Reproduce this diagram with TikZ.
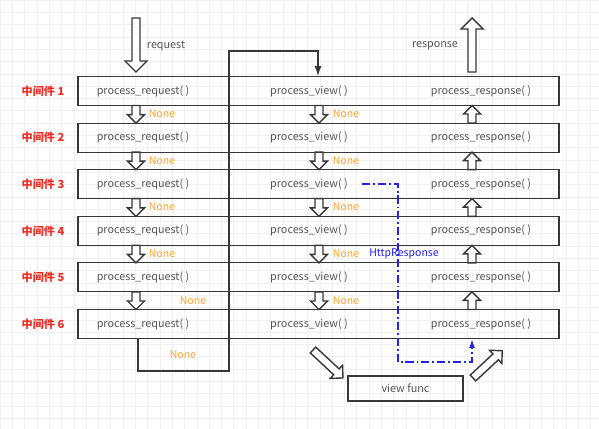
\documentclass[tikz,border=0pt]{standalone}
\usepackage{fontspec}
\setmainfont{Noto Sans CJK SC}
\usetikzlibrary{arrows.meta}
\definecolor{boxline}{RGB}{55,55,55}
\definecolor{txt}{RGB}{85,85,85}
\definecolor{nonec}{RGB}{250,165,55}
\definecolor{redc}{RGB}{235,45,35}
\definecolor{bluec}{RGB}{35,35,225}
\definecolor{gridc}{RGB}{240,240,240}
\begin{document}
\begin{tikzpicture}[
    x=0.03cm, y=-0.03cm,
    row/.style={draw=boxline, line width=0.9pt, minimum width=14.43cm, minimum height=0.87cm},
    fn/.style={text=txt, font=\fontsize{9.2}{11}\selectfont, inner sep=0pt},
    mid/.style={text=redc, font=\fontsize{9.5}{11}\selectfont\bfseries},
    none/.style={text=nonec, font=\fontsize{9}{11}\selectfont, inner sep=0pt},
    flow/.style={-{Latex[length=8.5pt,width=6pt]}, line width=0.9pt, draw=boxline},
    hit/.style={-{Latex[length=7.5pt,width=5pt]}, line width=1.2pt, bluec,
                dash pattern=on 7pt off 2.5pt on 1.5pt off 2.5pt},
    pics/hollow/.style args={#1/#2}{code={
      \draw[boxline, line width=1.2pt, fill=white] (0,-4) -- ({#1-#2},-4) -- ({#1-#2},-#2)
        -- (#1,0) -- ({#1-#2},#2) -- ({#1-#2},4) -- (0,4) -- cycle;
    }},
  ]
    \useasboundingbox (0,0) rectangle (599,429);
    \draw[gridc, line width=0.4pt, step=0.369cm] (0,0) grid (599,429);

    % request / response
    \pic[rotate=-90] at (136,18) {hollow=54/11};
    \pic[rotate=90]  at (472,72) {hollow=54/11};
    \node[fn] (req)  at (166,46) {request};
    \node[fn] (resp) at (435,46) {response};

    % middleware rows
    \node[mid] (m1) at (43,91) {中间件 1};
    \node[row] (row1) at (318.5,91) {};
    \node[fn]  (pr1) at (143,91) {process\_request( )};
    \node[fn]  (pv1) at (309,91) {process\_view( )};
    \node[fn]  (ps1) at (481,91) {process\_response( )};

    \node[mid] (m2) at (43,137.6) {中间件 2};
    \node[row] (row2) at (318.5,137.6) {};
    \node[fn]  (pr2) at (143,137.6) {process\_request( )};
    \node[fn]  (pv2) at (309,137.6) {process\_view( )};
    \node[fn]  (ps2) at (481,137.6) {process\_response( )};

    \node[mid] (m3) at (43,184.2) {中间件 3};
    \node[row] (row3) at (318.5,184.2) {};
    \node[fn]  (pr3) at (143,184.2) {process\_request( )};
    \node[fn]  (pv3) at (309,184.2) {process\_view( )};
    \node[fn]  (ps3) at (481,184.2) {process\_response( )};

    \node[mid] (m4) at (43,230.8) {中间件 4};
    \node[row] (row4) at (318.5,230.8) {};
    \node[fn]  (pr4) at (143,230.8) {process\_request( )};
    \node[fn]  (pv4) at (309,230.8) {process\_view( )};
    \node[fn]  (ps4) at (481,230.8) {process\_response( )};

    \node[mid] (m5) at (43,277.4) {中间件 5};
    \node[row] (row5) at (318.5,277.4) {};
    \node[fn]  (pr5) at (143,277.4) {process\_request( )};
    \node[fn]  (pv5) at (309,277.4) {process\_view( )};
    \node[fn]  (ps5) at (481,277.4) {process\_response( )};

    \node[mid] (m6) at (43,324) {中间件 6};
    \node[row] (row6) at (318.5,324) {};
    \node[fn]  (pr6) at (143,324) {process\_request( )};
    \node[fn]  (pv6) at (309,324) {process\_view( )};
    \node[fn]  (ps6) at (481,324) {process\_response( )};

    % arrows between rows
    \pic[rotate=-90] at (136,105.5) {hollow=17.6/8.5};
    \pic[rotate=-90] at (136,152.1) {hollow=17.6/8.5};
    \pic[rotate=-90] at (136,198.7) {hollow=17.6/8.5};
    \pic[rotate=-90] at (136,245.3) {hollow=17.6/8.5};
    \pic[rotate=-90] at (136,291.9) {hollow=17.6/8.5};
    \pic[rotate=-90] at (319,105.5) {hollow=17.6/8.5};
    \pic[rotate=-90] at (319,152.1) {hollow=17.6/8.5};
    \pic[rotate=-90] at (319,198.7) {hollow=17.6/8.5};
    \pic[rotate=-90] at (319,245.3) {hollow=17.6/8.5};
    \pic[rotate=-90] at (319,291.9) {hollow=17.6/8.5};
    \pic[rotate=90]  at (472,123.1) {hollow=17.6/8.5};
    \pic[rotate=90]  at (472,169.7) {hollow=17.6/8.5};
    \pic[rotate=90]  at (472,216.3) {hollow=17.6/8.5};
    \pic[rotate=90]  at (472,262.9) {hollow=17.6/8.5};
    \pic[rotate=90]  at (472,309.5) {hollow=17.6/8.5};

    \node[none] (n1) at (162,114) {None};
    \node[none] (n2) at (162,161) {None};
    \node[none] (n3) at (162,207) {None};
    \node[none] (n4) at (162,254) {None};
    \node[none] (n5) at (193,301) {None};
    \node[none] (n6) at (183,355) {None};
    \node[none] (v1) at (346,114) {None};
    \node[none] (v2) at (346,161) {None};
    \node[none] (v3) at (346,207) {None};
    \node[none] (v4) at (346,254) {None};
    \node[none] (v5) at (346,301) {None};

    % request passes on to the views
    \coordinate (lp) at (138,371);
    \coordinate (bl) at (229,371);
    \coordinate (tr) at (318,51);
    \draw[flow] (row6.south -| lp) -- (lp) -- (bl) -- (bl |- tr) -- (tr) -- (row1.north -| tr);

    % view func
    \node[fn, draw=boxline, line width=0.9pt, minimum width=3.45cm, minimum height=0.75cm] (vf) at (405.5,388.5) {view func};
    \pic[rotate=-43] at (313,350) {hollow=41/9};
    \pic[rotate=43]  at (473,378) {hollow=40/9};

    % short cut from process_view
    \coordinate (hs) at (362,184);
    \coordinate (hb) at (398,362);
    \coordinate (he) at (472,362);
    \draw[hit] (hs) -| (hb) -- (he) -- (row6.south -| he);
    \node[font=\fontsize{9}{11}\selectfont, text=bluec, inner sep=0pt] (hr) at (404,254) {HttpResponse};
\end{tikzpicture}
\end{document}
